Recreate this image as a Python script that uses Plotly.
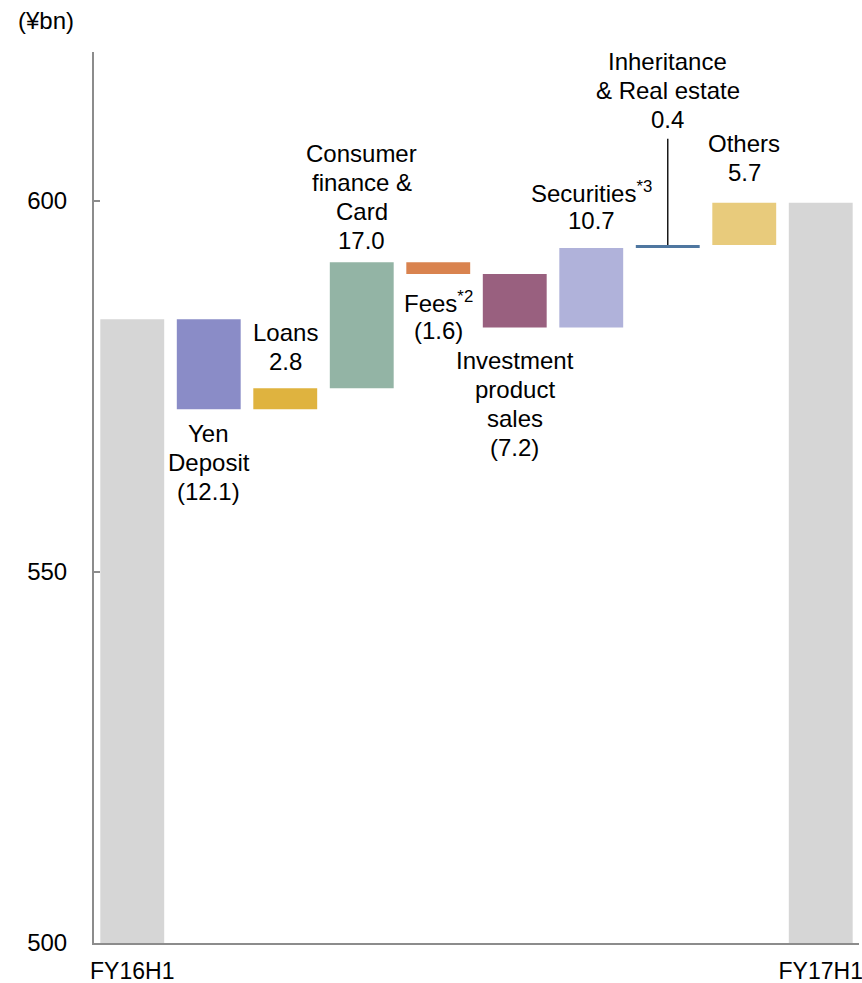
import plotly.graph_objects as go

# Net revenue bridge, FY16H1 -> FY17H1 (¥bn)
categories = ["FY16H1", "Yen Deposit", "Loans", "Consumer finance & Card", "Fees",
              "Investment product sales", "Securities", "Inheritance & Real estate",
              "Others", "FY17H1"]
start_total = 584.0
changes = [-12.1, 2.8, 17.0, -1.6, -7.2, 10.7, 0.4, 5.7]
bar_colors = ["#D6D6D6", "#8A8CC7", "#DFB33F", "#93B4A5", "#D9834F", "#99607F",
              "#B0B2DA", "#4F77A0", "#E8CB7C", "#D6D6D6"]

# label lines, and whether the label sits above (+1) or below (-1) the bar
label_lines = [
    None,
    ["Yen", "Deposit", "(12.1)"],
    ["Loans", "2.8"],
    ["Consumer", "finance &", "Card", "17.0"],
    ["Fees<sup>*2</sup>", "(1.6)"],
    ["Investment", "product", "sales", "(7.2)"],
    ["Securities<sup>*3</sup>", "10.7"],
    ["Inheritance", "& Real estate", "0.4"],
    ["Others", "5.7"],
    None,
]
label_side = [0, -1, 1, 1, -1, -1, 1, 1, 1, 0]
label_gap = [0, 53, 41, 65, 42, 77, 42, 155, 45, 0]   # px from bar edge to block centre

# floating bars
bases, heights = [0.0], [start_total]
level = start_total
for c in changes:
    lo = level if c >= 0 else level + c
    bases.append(lo)
    heights.append(abs(c))
    level += c
end_total = level
bases.append(0.0)
heights.append(end_total)

fig = go.Figure(go.Bar(
    x=categories, y=heights, base=bases,
    marker=dict(color=bar_colors, line=dict(width=0)),
    hoverinfo="skip",
))

FONT = "Liberation Sans, Arial, sans-serif"
FS = 24
LINE_H = 29

annotations = []
for i, lines in enumerate(label_lines):
    if not lines:
        continue
    top = bases[i] + heights[i]
    bot = bases[i]
    yref_val = top if label_side[i] > 0 else bot
    centre = label_side[i] * label_gap[i]
    n = len(lines)
    for k, t in enumerate(lines):
        off = centre + ((n - 1) / 2 - k) * LINE_H
        annotations.append(dict(
            x=categories[i], y=yref_val, xref="x", yref="y",
            text=t, showarrow=False, yanchor="middle", xanchor="center",
            yshift=off, font=dict(family=FONT, size=FS, color="#000000"),
        ))

# unit label above the value axis
annotations.append(dict(
    x=-0.063, y=1.035, xref="paper", yref="paper", text="(¥bn)", showarrow=False,
    xanchor="center", yanchor="middle",
    font=dict(family=FONT, size=24, color="#000000"),
))

# leader line from the small Inheritance bar up to its label
inh = 7
fig.add_shape(type="line", xref="x", yref="y",
              x0=inh, x1=inh, y0=bases[inh] + heights[inh], y1=608.3,
              line=dict(color="#1a1a1a", width=1.5))

fig.update_layout(
    width=862, height=983,
    margin=dict(l=94, r=3, t=52, b=40),
    paper_bgcolor="white", plot_bgcolor="white",
    bargap=0.165,
    showlegend=False,
    annotations=annotations,
    font=dict(family=FONT, size=FS, color="#000000"),
    xaxis=dict(
        type="category", categoryorder="array", categoryarray=categories,
        tickmode="array", tickvals=["FY16H1", "FY17H1"], ticktext=["FY16H1", "FY17H1"],
        showline=True, linecolor="#8C8C8C", linewidth=2,
        ticks="", showgrid=False, zeroline=False, automargin=False,
        tickfont=dict(family=FONT, size=23, color="#000000"),
        ticklabelstandoff=6,
    ),
    yaxis=dict(
        range=[500, 620], tickvals=[500, 550, 600],
        showline=True, linecolor="#8C8C8C", linewidth=2,
        ticks="inside", ticklen=6, tickcolor="#8C8C8C", tickwidth=1.5,
        showgrid=False, zeroline=False, automargin=False,
        tickfont=dict(family=FONT, size=24, color="#000000"),
        ticklabelstandoff=20,
    ),
)

fig.write_html("out.html")
